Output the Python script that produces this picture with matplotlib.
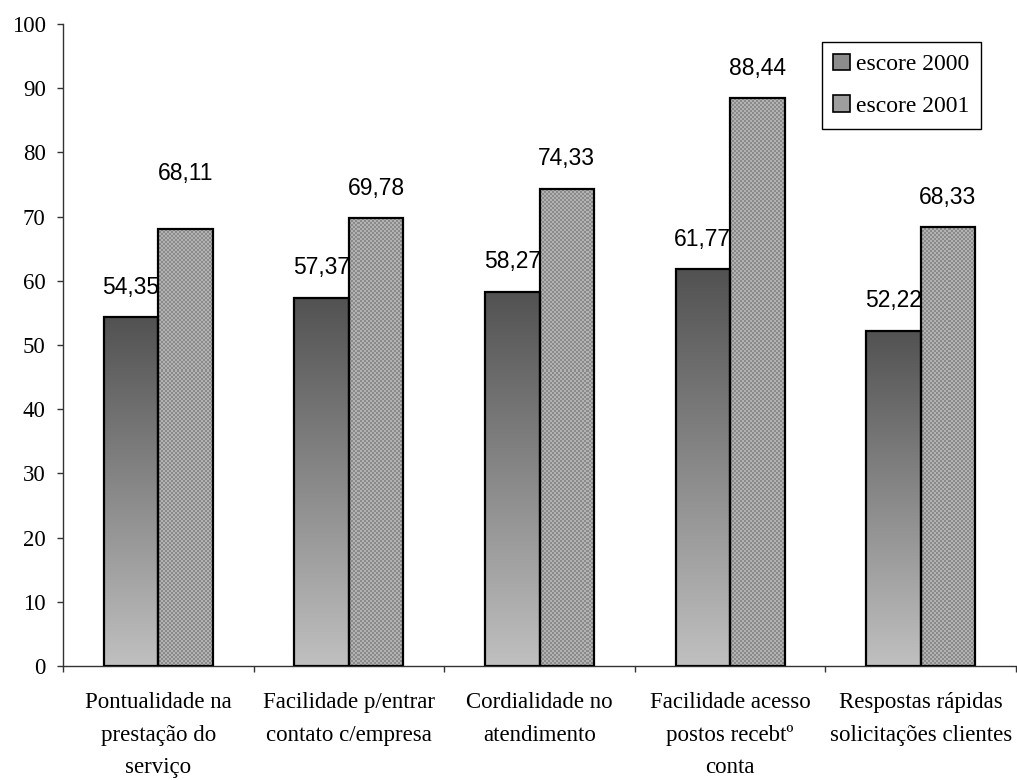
import numpy as np
import matplotlib
matplotlib.use("Agg")
import matplotlib.pyplot as plt
from matplotlib.patches import Rectangle, Patch

categories = [
    "Pontualidade na\nprestação do\nserviço",
    "Facilidade p/entrar\ncontato c/empresa",
    "Cordialidade no\natendimento",
    "Facilidade acesso\npostos recebtº\nconta",
    "Respostas rápidas\nsolicitações clientes",
]
escore_2000 = [54.35, 57.37, 58.27, 61.77, 52.22]
escore_2001 = [68.11, 69.78, 74.33, 88.44, 68.33]
labels_2000 = ["54,35", "57,37", "58,27", "61,77", "52,22"]
labels_2001 = ["68,11", "69,78", "74,33", "88,44", "68,33"]
y_ticks = list(range(0, 101, 10))

SERIF = "Liberation Serif"
SANS = "Liberation Sans"

fig = plt.figure(figsize=(10.17, 7.8), dpi=100)
ax = fig.add_axes([63 / 1017, 1 - 666 / 780, 953 / 1017, 642 / 780])

n = len(categories)
bar_w = 1 / 3.5
x = np.arange(n) + 0.5

ax.set_xlim(0, n)
ax.set_ylim(0, 100)

# vertical grey gradient (dark top -> light bottom) for the 2000 bars
grad = np.linspace(0, 1, 256).reshape(-1, 1)
top_c, bot_c = np.array([0x52, 0x52, 0x52]) / 255, np.array([0xc0, 0xc0, 0xc0]) / 255
grad_rgb = top_c + (bot_c - top_c) * grad[..., None]
grad_rgb = np.repeat(grad_rgb, 2, axis=1)

# fine checker texture for the 2001 bars
cell = 2
nx, ny = 953 // cell, 642 // cell
ii, jj = np.meshgrid(np.arange(nx), np.arange(ny))
chk = ((ii + jj) % 2).astype(float)
c1, c2 = np.array([0x8a] * 3) / 255, np.array([0xb2] * 3) / 255
chk_rgb = c1 + (c2 - c1) * chk[..., None]

for xi, v in zip(x, escore_2000):
    x0 = xi - bar_w
    rect = Rectangle((x0, 0), bar_w, v, facecolor="none", edgecolor="black",
                     linewidth=1.6, zorder=3)
    ax.add_patch(rect)
    im = ax.imshow(grad_rgb, extent=(x0, x0 + bar_w, 0, v), aspect="auto",
                   interpolation="bilinear", zorder=2, origin="upper")
    im.set_clip_path(rect)

for xi, v in zip(x, escore_2001):
    x0 = xi
    rect = Rectangle((x0, 0), bar_w, v, facecolor="none", edgecolor="black",
                     linewidth=1.6, zorder=3)
    ax.add_patch(rect)
    im = ax.imshow(chk_rgb, extent=(0, n, 0, 100), aspect="auto",
                   interpolation="nearest", zorder=2, origin="upper")
    im.set_clip_path(rect)

ax.set_xlim(0, n)
ax.set_ylim(0, 100)

# value labels
offs_2000 = [21.6] * n
offs_2001 = [40.0, 21.6, 21.6, 21.6, 21.6]
for xi, v, t, o in zip(x, escore_2000, labels_2000, offs_2000):
    ax.annotate(t, (xi - bar_w / 2, v), xytext=(0, o), textcoords="offset points",
                ha="center", va="center", fontsize=16.5, family=SANS)
for xi, v, t, o in zip(x, escore_2001, labels_2001, offs_2001):
    ax.annotate(t, (xi + bar_w / 2, v), xytext=(0, o), textcoords="offset points",
                ha="center", va="center", fontsize=16.5, family=SANS)

# axes styling
for s in ("top", "right"):
    ax.spines[s].set_visible(False)
for s in ("left", "bottom"):
    ax.spines[s].set_color("#333333")
    ax.spines[s].set_linewidth(1.0)

ax.set_yticks(y_ticks)
ax.set_yticklabels([str(t) for t in y_ticks], fontsize=16.5, family=SERIF)
ax.tick_params(axis="y", direction="out", length=4.5, width=1.0, color="#333333", pad=8)

ax.set_xticks(x)
ax.set_xticklabels(categories, fontsize=16.5, family=SERIF, linespacing=1.72)
ax.set_xticks(np.arange(n + 1), minor=True)
ax.tick_params(axis="x", which="major", length=0, pad=19)
ax.tick_params(axis="x", which="minor", direction="out", length=4.5, width=1.0, color="#333333")

handles = [
    Patch(facecolor="#8c8c8c", edgecolor="black", linewidth=1.2, label="escore 2000"),
    Patch(facecolor="#9e9e9e", edgecolor="black", linewidth=1.2, label="escore 2001"),
]
leg = ax.legend(handles=handles, loc="upper left", bbox_to_anchor=(0.796, 0.972),
                frameon=True, fancybox=False, edgecolor="black", framealpha=1,
                prop={"family": SERIF, "size": 17}, handlelength=0.7, handleheight=0.7,
                handletextpad=0.25, labelspacing=0.85, borderpad=0.5, borderaxespad=0)
leg.get_frame().set_linewidth(1.0)

fig.savefig("out.png", dpi=100)
